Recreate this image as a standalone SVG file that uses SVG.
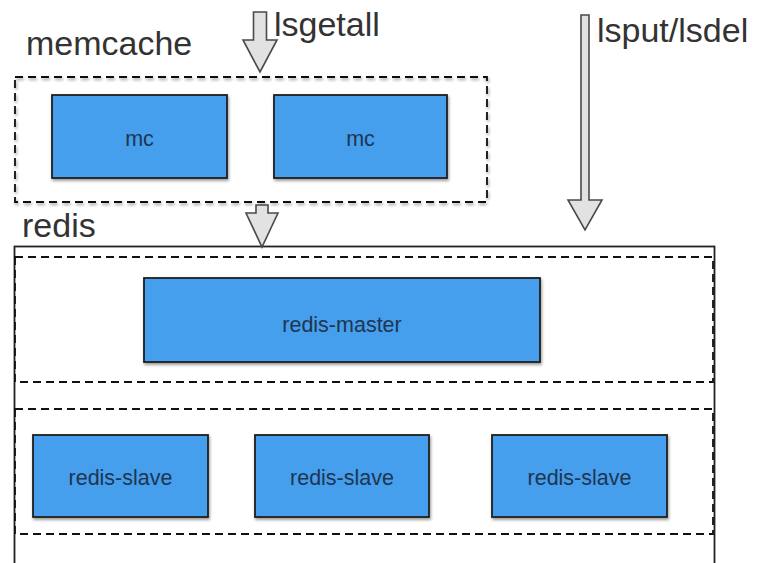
<svg xmlns="http://www.w3.org/2000/svg" width="765" height="563" viewBox="0 0 765 563">
<defs>
<filter id="sh" x="-10%" y="-10%" width="120%" height="130%">
<feDropShadow dx="1" dy="2" stdDeviation="1.5" flood-color="#000" flood-opacity="0.4"/>
</filter>
<style>
.lbl{font-family:"Liberation Sans",Arial,sans-serif;font-size:34px;fill:#333}
.node rect{fill:#459FED;stroke:#1e1e1e;stroke-width:1.8}
.node text{font-family:"Liberation Sans",Arial,sans-serif;font-size:21.5px;fill:#1f3550;text-anchor:middle}
.dash{fill:none;stroke:#111;stroke-width:1.8;stroke-dasharray:8 5}
.arrow{fill:#e2e2e2;stroke:#4a4a4a;stroke-width:1.6;stroke-linejoin:miter}
</style>
</defs>
<rect width="765" height="563" fill="#fff"/>

<g id="memcache">
<rect class="dash" x="15" y="77" width="472" height="125" fill="#fff" filter="url(#sh)"/>
<text class="lbl" x="26" y="55">memcache</text>
</g>

<g id="redis">
<rect x="14.5" y="246.5" width="700" height="330" fill="none" stroke="#222" stroke-width="1.8"/>
<rect class="dash" x="15" y="257" width="698" height="125"/>
<rect class="dash" x="15" y="409" width="698" height="125"/>
<text class="lbl" x="22" y="237">redis</text>
</g>

<g id="mc1" class="node"><rect x="52" y="95" width="175" height="83" filter="url(#sh)"/><text x="139.5" y="146">mc</text></g>
<g id="mc2" class="node"><rect x="274" y="95" width="173" height="83" filter="url(#sh)"/><text x="360.5" y="146">mc</text></g>
<g id="redis-master" class="node"><rect x="144" y="278" width="396" height="84" filter="url(#sh)"/><text x="342" y="332">redis-master</text></g>
<g id="redis-slave1" class="node"><rect x="33" y="435" width="175" height="82" filter="url(#sh)"/><text x="120.5" y="485">redis-slave</text></g>
<g id="redis-slave2" class="node"><rect x="255" y="435" width="174" height="82" filter="url(#sh)"/><text x="342" y="485">redis-slave</text></g>
<g id="redis-slave3" class="node"><rect x="492" y="435" width="175" height="82" filter="url(#sh)"/><text x="579.5" y="485">redis-slave</text></g>

<g id="connectors">
<polygon class="arrow" points="253.5,12 266.5,12 266.5,40 277,40 260,72 243,40 253.5,40"/>
<polygon class="arrow" points="256,205 268,205 268,213 278,213 262,247 246,213 256,213"/>
<polygon class="arrow" points="581,15 589,15 589,200 602,200 585,230 568,200 581,200"/>
<text class="lbl" x="274" y="36">lsgetall</text>
<text class="lbl" x="597" y="42">lsput/lsdel</text>
</g>
</svg>
